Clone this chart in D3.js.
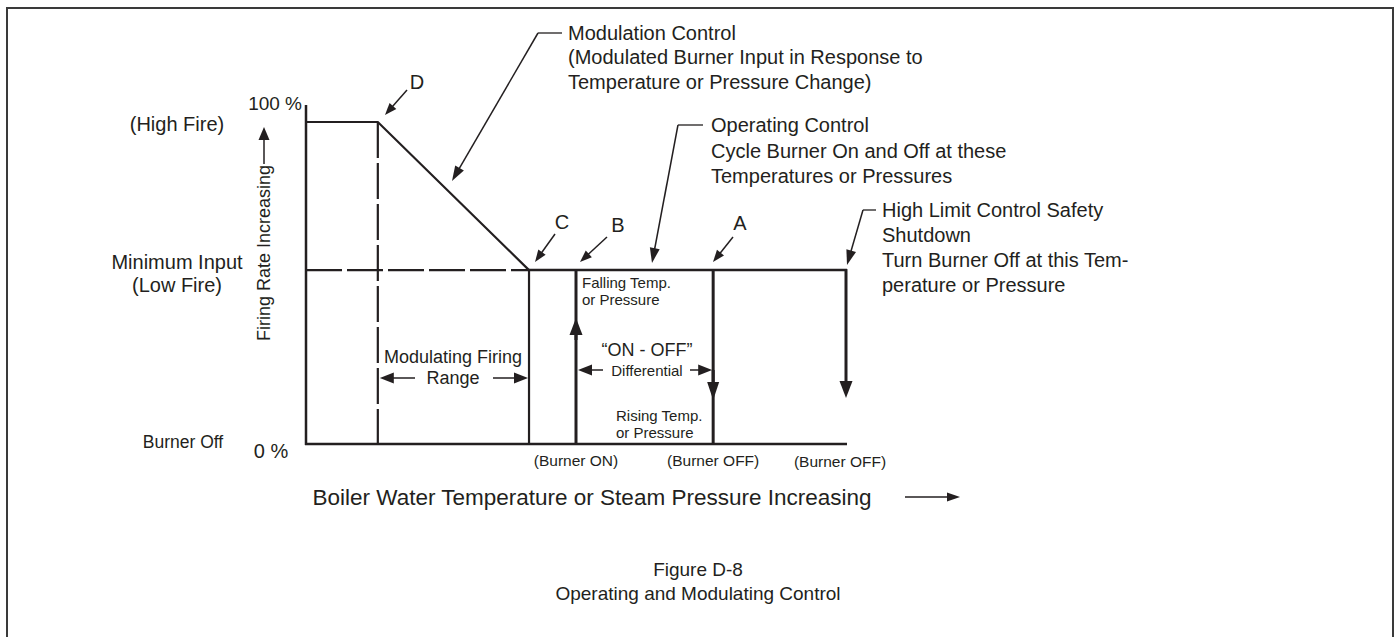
<!DOCTYPE html>
<html><head><meta charset="utf-8">
<script src="https://cdn.jsdelivr.net/npm/d3@7"></script>
<style>
body{margin:0;background:#fff}
text{font-family:"Liberation Sans",Arial,Helvetica,sans-serif;fill:#231f20}
</style>
</head><body>
<svg id="c" width="1397" height="637"></svg>
<script>
// ---- data ----
// x: boiler water temperature / steam pressure (relative units 0-100)
// y: firing rate (%)
const xDomain = [0, 100];
const yDomain = [0, 100];
const levelNames = ["Burner Off", "Minimum Input", "High Fire"];
const levelValues = [0, 54, 100];
const levelTickLabels = ["0 %", "", "100 %"];
const pointNames = ["D", "C", "B", "A", "H"];
const pointX = [13.3, 41.3, 50, 75.4, 100];
const modProfileX = [0, 13.3, 41.3];
const modProfileY = [100, 100, 54];
const bottomLabels = ["(Burner ON)", "(Burner OFF)", "(Burner OFF)"];

const svg = d3.select("#c");
const x = d3.scaleLinear().domain(xDomain).range([306, 846]);
const y = d3.scaleLinear().domain(yDomain).range([444, 122]);
const ink = "#231f20";

const px = n => x(pointX[pointNames.indexOf(n)]);
const yOff = y(levelValues[0]), yMin = y(levelValues[1]), yHigh = y(levelValues[2]);

// frame
svg.append("rect").attr("x", 7).attr("y", 8).attr("width", 1386).attr("height", 660)
  .attr("fill", "none").attr("stroke", "#3a3a3a").attr("stroke-width", 2);

function line(x1, y1, x2, y2, w, dash) {
  const l = svg.append("line").attr("x1", x1).attr("y1", y1).attr("x2", x2).attr("y2", y2)
    .attr("stroke", ink).attr("stroke-width", w || 2);
  if (dash) l.attr("stroke-dasharray", dash);
  return l;
}
function arrow(x1, y1, x2, y2, w, hl, hw) {
  const dx = x2 - x1, dy = y2 - y1, L = Math.hypot(dx, dy);
  const ux = dx / L, uy = dy / L;
  const bx = x2 - ux * hl, by = y2 - uy * hl;
  line(x1, y1, bx + ux, by + uy, w);
  svg.append("path").attr("fill", ink)
    .attr("d", `M${x2},${y2}L${bx - uy * hw / 2},${by + ux * hw / 2}L${bx + uy * hw / 2},${by - ux * hw / 2}Z`);
}
function txt(str, tx, ty, size, anchor) {
  return svg.append("text").attr("x", tx).attr("y", ty).attr("font-size", size)
    .attr("text-anchor", anchor || "start").attr("dominant-baseline", "central").text(str);
}

// axes
line(x(0), yHigh - 17, x(0), yOff + 1, 2.5);
line(x(0) - 1, yOff, x(100) + 1, yOff, 2.5);

// firing profile (high fire + modulation slope)
svg.append("path").datum(modProfileX.map((v, i) => [v, modProfileY[i]]))
  .attr("d", d3.line().x(d => x(d[0])).y(d => y(d[1])))
  .attr("fill", "none").attr("stroke", ink).attr("stroke-width", 2.2);

// minimum input line: dashed across modulating range, solid beyond
line(x(0), yMin, px("C"), yMin, 2.2, "36,5");
line(px("C"), yMin, x(100) + 1, yMin, 2.5);

// D dashed vertical, C vertical
line(px("D"), yHigh, px("D"), yOff, 2.2, "36,5");
line(px("C"), yMin, px("C"), yOff, 2.2);

// B: burner ON (arrow up), A: burner OFF (arrow down), H: high limit (arrow down)
line(px("B"), yOff, px("B"), yMin, 3);
arrow(px("B"), 340, px("B"), 318, 3, 17, 13);
line(px("A"), yMin, px("A"), yOff, 3);
arrow(px("A"), 370, px("A"), 400, 3, 18, 12);
arrow(px("H"), yMin - 1, px("H"), 398, 3, 17, 13);

// left labels
txt(levelTickLabels[2], 302, 103, 19, "end");
txt("(High Fire)", 177, 124, 20, "middle");
txt(levelNames[1], 177, 262, 20, "middle");
txt("(Low Fire)", 177, 285, 20, "middle");
txt(levelNames[0], 183, 442, 17.5, "middle");
txt(levelTickLabels[0], 271, 451, 20, "middle");

// y axis title with arrow
svg.append("text").attr("transform", "translate(264,253) rotate(-90)")
  .attr("font-size", 18).attr("text-anchor", "middle").attr("dominant-baseline", "central")
  .text("Firing Rate Increasing");
arrow(264, 164, 264, 127, 1.5, 13, 11);

// point labels with arrows
txt("D", 417, 82, 20, "middle");
arrow(407, 90, 385, 115, 1.5, 12, 9);
txt("C", 562, 222, 20, "middle");
arrow(555, 234, 535, 262, 1.5, 12, 9);
txt("B", 618, 225, 20, "middle");
arrow(607, 237, 580, 262, 1.5, 12, 9);
txt("A", 740, 223, 20, "middle");
arrow(733, 237, 713, 262, 1.5, 12, 9);

// Modulation control callout
line(538, 33, 562, 33, 1.3);
arrow(538, 33, 452, 181, 1.5, 15, 10);
txt("Modulation Control", 568, 33, 20);
txt("(Modulated Burner Input in Response to", 568, 57, 20);
txt("Temperature or Pressure Change)", 568, 82, 20);

// Operating control callout
line(678, 125, 703, 125, 1.3);
arrow(678, 125, 652, 263, 1.5, 15, 10);
txt("Operating Control", 711, 125, 20);
txt("Cycle Burner On and Off at these", 711, 151, 20);
txt("Temperatures or Pressures", 711, 176, 20);

// High limit callout
line(863, 210, 876, 210, 1.3);
arrow(863, 210, 847, 265, 1.5, 15, 10);
txt("High Limit Control Safety", 882, 210, 20);
txt("Shutdown", 882, 235, 20);
txt("Turn Burner Off at this Tem-", 882, 260, 20);
txt("perature or Pressure", 882, 285, 20);

// inner labels
txt("Falling Temp.", 582, 282, 15);
txt("or Pressure", 582, 299, 15);
txt("\u201cON - OFF\u201d", 647, 350, 18, "middle");
txt("Differential", 647, 370, 15, "middle");
arrow(603, 370, px("B") + 2, 370, 1.5, 14, 11);
arrow(690, 370, px("A") - 1, 370, 1.5, 14, 11);
txt("Rising Temp.", 616, 415, 15);
txt("or Pressure", 616, 432, 15);
txt("Modulating Firing", 453, 357, 18, "middle");
txt("Range", 453, 378, 18, "middle");
arrow(415, 378, px("D") + 2, 378, 1.5, 14, 11);
arrow(493, 378, px("C") - 1, 378, 1.5, 14, 11);

// bottom labels
[px("B"), px("A"), px("H") - 6].forEach((cx, i) => txt(bottomLabels[i], cx, 460 + (i === 2 ? 1 : 0), 15.5, "middle"));

// x axis title with arrow
txt("Boiler Water Temperature or Steam Pressure Increasing", 592, 497, 22.5, "middle");
arrow(905, 497, 960, 497, 1.5, 13, 9);

// caption
txt("Figure D-8", 698, 569, 19, "middle");
txt("Operating and Modulating Control", 698, 593, 19, "middle");
</script>
</body></html>
